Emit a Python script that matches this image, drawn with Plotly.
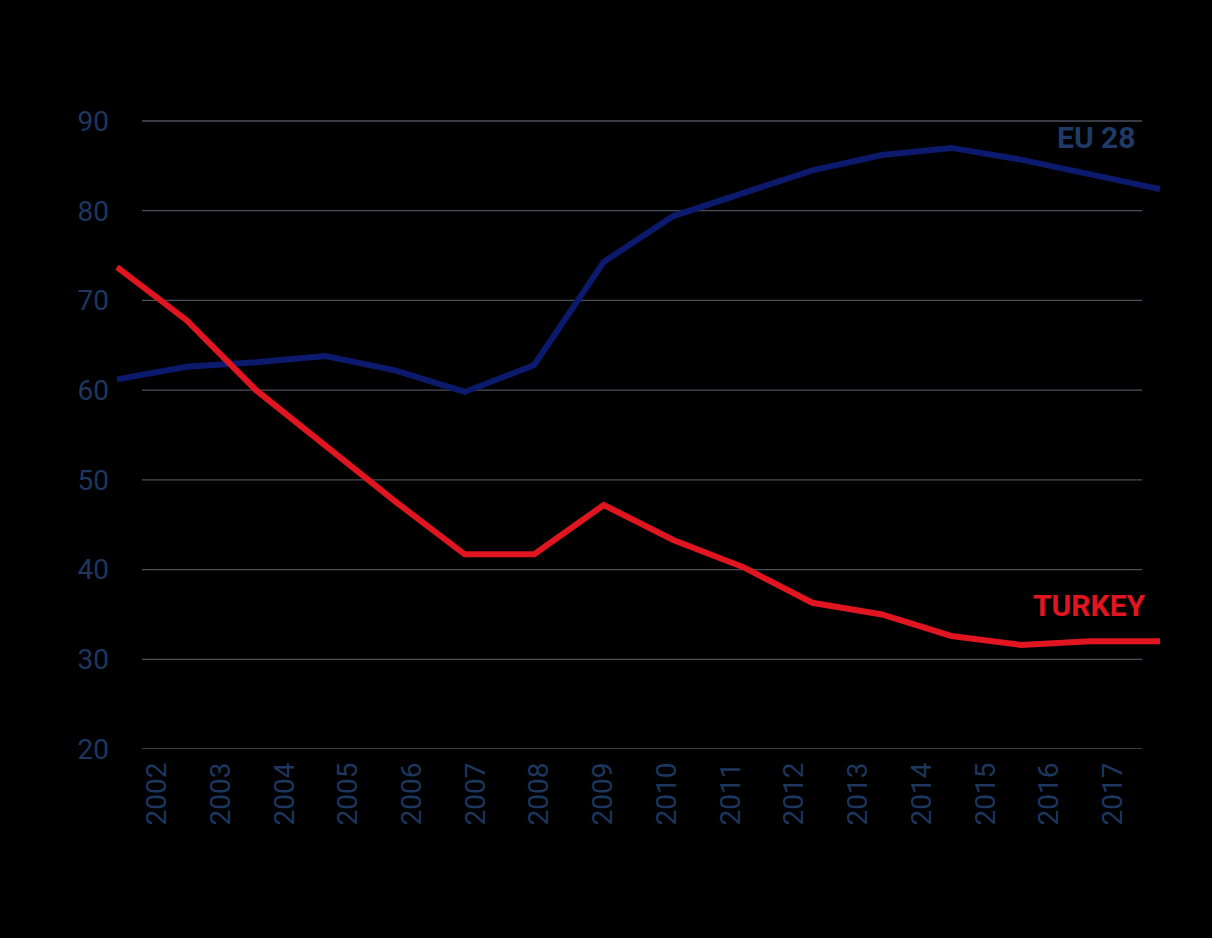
import plotly.graph_objects as go

# Series values by year
years = ["2002", "2003", "2004", "2005", "2006", "2007", "2008", "2009",
         "2010", "2011", "2012", "2013", "2014", "2015", "2016", "2017"]
eu28 = [61.2, 62.6, 63.1, 63.8, 62.2, 59.8, 62.8, 74.3,
        79.4, 82.0, 84.5, 86.2, 87.0, 85.7, 84.0, 82.4]
turkey = [73.7, 67.8, 60.0, 53.7, 47.6, 41.7, 41.7, 47.2,
          43.3, 40.3, 36.3, 35.0, 32.6, 31.6, 32.0, 32.0]
y_ticks = [20, 30, 40, 50, 60, 70, 80, 90]

W, H = 1212, 938
L, R, T, B = 110, 45, 100, 189
pw = W - L - R

EU_COLOR = "#0b1a6c"
TR_COLOR = "#e1151f"
TICK_COLOR = "#1d375f"
GRID_COLOR = "#4b4f5a"
FONT = "Roboto, Arial, sans-serif"

idx = list(range(len(years)))

fig = go.Figure()
fig.add_trace(go.Scatter(x=idx, y=eu28, mode="lines", name="EU 28",
                         line=dict(color=EU_COLOR, width=6),
                         xaxis="x", yaxis="y", showlegend=False))
fig.add_trace(go.Scatter(x=idx, y=turkey, mode="lines", name="TURKEY",
                         line=dict(color=TR_COLOR, width=6),
                         xaxis="x", yaxis="y", showlegend=False))
# invisible carrier for the year labels axis
fig.add_trace(go.Scatter(x=years, y=[None] * len(years), mode="lines",
                         xaxis="x2", yaxis="y", showlegend=False,
                         hoverinfo="skip"))

# horizontal gridlines, inset from the plot edges
gx0 = (142 - L) / pw
gx1 = (1142 - L) / pw
shapes = [dict(type="line", xref="paper", yref="y", x0=gx0, x1=gx1,
               y0=v, y1=v, line=dict(color=GRID_COLOR, width=1.3),
               layer="below") for v in y_ticks]

per_unit = (1160 - 117) / (len(years) - 1)
pad_l = (117 - L) / per_unit
pad_r = (L + pw - 1160) / per_unit

lab_unit = (1113 - 157) / (len(years) - 1)
lab_l = (157 - L) / lab_unit
lab_r = (L + pw - 1113) / lab_unit

fig.update_layout(
    width=W, height=H,
    margin=dict(l=L, r=R, t=T, b=B),
    paper_bgcolor="#000000", plot_bgcolor="#000000",
    font=dict(family=FONT, color=TICK_COLOR, size=28),
    xaxis=dict(range=[-pad_l, len(years) - 1 + pad_r], showgrid=False,
               zeroline=False, showticklabels=False, showline=False,
               fixedrange=True),
    xaxis2=dict(type="category", overlaying="x", side="bottom", anchor="y",
                range=[-lab_l, len(years) - 1 + lab_r], showgrid=False,
                zeroline=False, showline=False, tickangle=-90,
                tickfont=dict(family=FONT, color=TICK_COLOR, size=28),
                ticks="", ticklabelstandoff=7),
    yaxis=dict(range=[20, 20 + (H - T - B) / (628 / 70)], tickvals=y_ticks,
               showgrid=False, zeroline=False, showline=False, ticks="",
               ticklabelstandoff=0,
               tickfont=dict(family=FONT, color=TICK_COLOR, size=28)),
    shapes=shapes,
    annotations=[
        dict(text="<b>EU 28</b>", xref="paper", yref="y",
             x=(1138 - L) / pw, y=88.2, xanchor="right", yanchor="middle",
             showarrow=False,
             font=dict(family=FONT, size=30, color="#1f3a66")),
        dict(text="<b>TURKEY</b>", xref="paper", yref="y",
             x=(1148 - L) / pw, y=35.95, xanchor="right", yanchor="middle",
             showarrow=False,
             font=dict(family=FONT, size=30, color=TR_COLOR)),
    ],
)

fig.write_html("out.html")
